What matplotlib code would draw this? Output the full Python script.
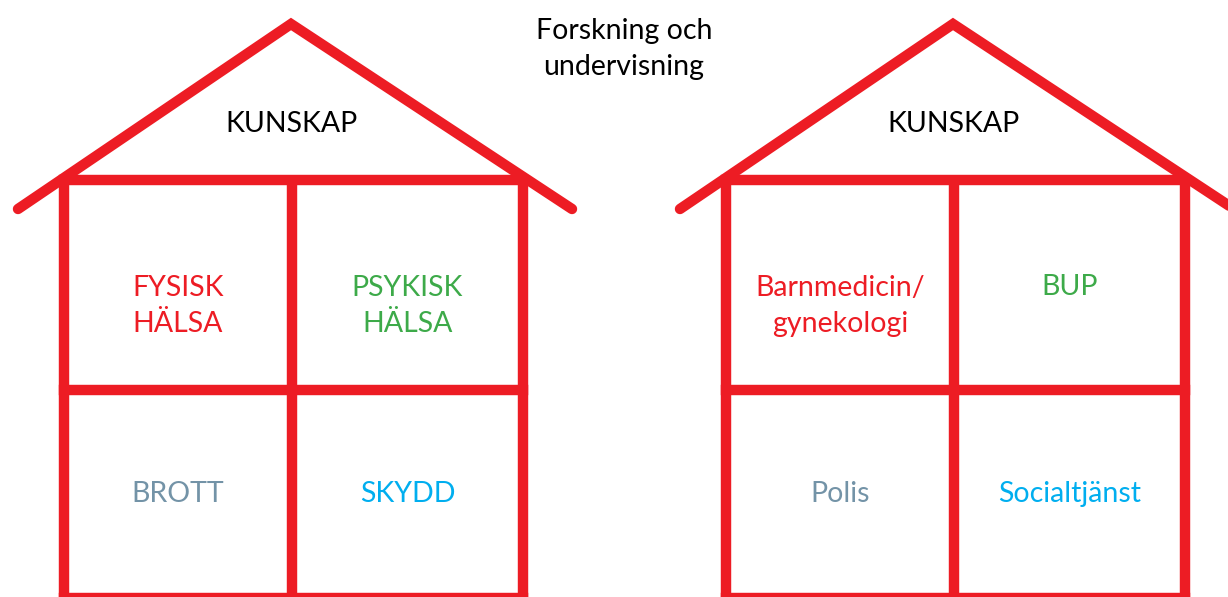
import matplotlib
matplotlib.use("Agg")
import matplotlib.pyplot as plt

plt.rcParams['font.family'] = ['Lato', 'DejaVu Sans']

RED = '#ED1C24'

# house frames in pixel space (x, y downwards)
house_apex_x = [291, 953]
apex_y = 24
roof_end_y = 209
roof_left = 273
roof_right = 281
eave_y = 180
mid_y = 390
base_y = 598
wall_offset = [-227, 1, 232]

roof_title = ["KUNSKAP", "KUNSKAP"]
cell_labels = [
    ["FYSISK\nHÄLSA", "PSYKISK\nHÄLSA", "BROTT", "SKYDD"],
    ["Barnmedicin/\ngynekologi", "BUP", "Polis", "Socialtjänst"],
]
cell_colors = ['#ED1C24', '#3DAA49', '#7393A7', '#00AEEF']
top_note = "Forskning och\nundervisning"

fig = plt.figure(figsize=(12.28, 5.97), dpi=100)
ax = fig.add_axes([0, 0, 1, 1])
ax.set_xlim(0, 1228)
ax.set_ylim(597, 0)
ax.axis('off')

lw = 7.5
fs = 20.5
for h, cx in enumerate(house_apex_x):
    # roof
    ax.plot([cx - roof_left, cx, cx + roof_right],
            [roof_end_y, apex_y, roof_end_y],
            color=RED, lw=lw, solid_capstyle='round', solid_joinstyle='miter')
    walls = [cx + o for o in wall_offset]
    for wx in walls:
        ax.plot([wx, wx], [eave_y, base_y + 10], color=RED, lw=lw, solid_capstyle='butt')
    for hy in [eave_y, mid_y, base_y]:
        ax.plot([walls[0], walls[-1]], [hy, hy], color=RED, lw=lw,
                solid_capstyle='projecting', clip_on=False)

    ax.text(cx, 124, roof_title[h], ha='center', va='center', fontsize=fs, color='black')

    centers = [((walls[0] + walls[1]) / 2, 306), ((walls[1] + walls[2]) / 2, 306),
               ((walls[0] + walls[1]) / 2, 494), ((walls[1] + walls[2]) / 2, 494)]
    for k, (tx, ty) in enumerate(centers):
        lab = cell_labels[h][k]
        if '\n' not in lab and k < 2:
            ty = 287
        ax.text(tx, ty, lab, ha='center', va='center', fontsize=fs,
                color=cell_colors[k], linespacing=1.52)

ax.text(624, 49, top_note, ha='center', va='center', fontsize=fs,
        color='black', linespacing=1.52)

fig.savefig('out.png', dpi=100)
